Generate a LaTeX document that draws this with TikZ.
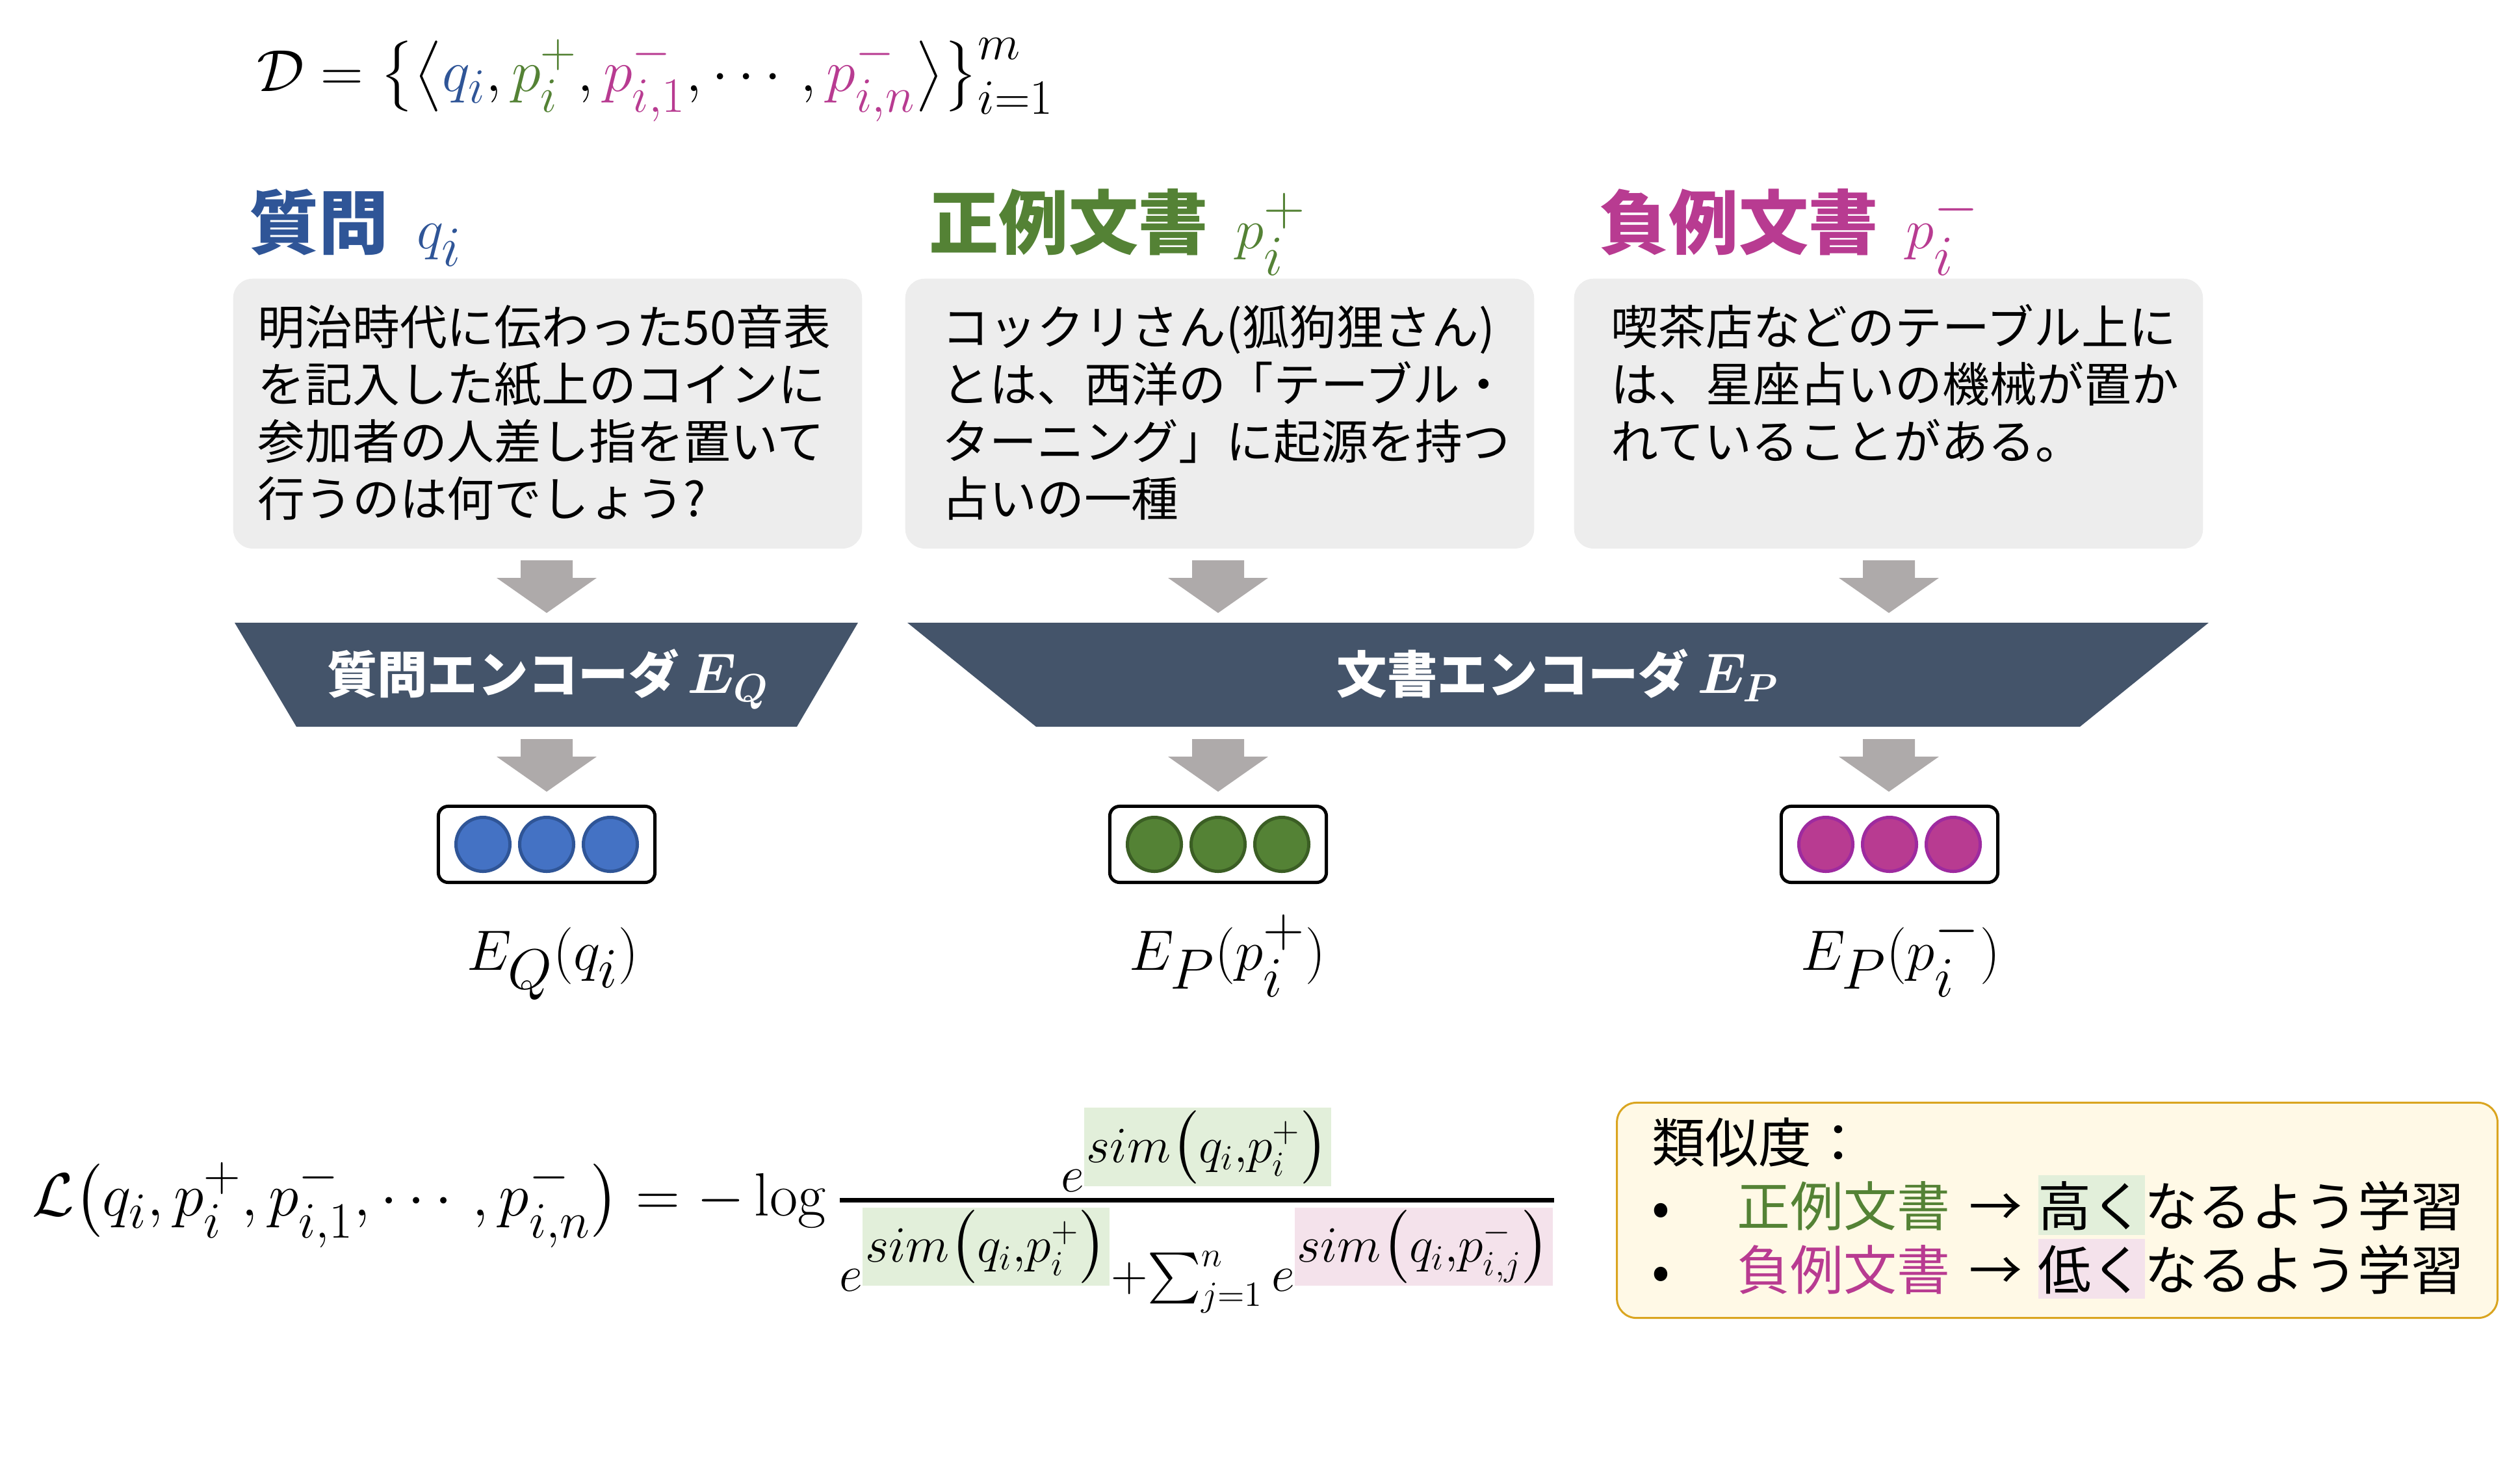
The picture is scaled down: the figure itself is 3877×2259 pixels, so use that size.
\documentclass[tikz,border=0pt]{standalone}
\usepackage[no-math]{fontspec}
\setmainfont{Noto Sans CJK JP}
\usepackage{amsmath}
\usepackage{graphicx}
\definecolor{qblue}{HTML}{2F5597}
\definecolor{pgreen}{HTML}{548235}
\definecolor{nmag}{HTML}{B83B91}
\definecolor{boxgray}{HTML}{EDEDED}
\definecolor{encfill}{HTML}{44546A}
\definecolor{arrowgray}{HTML}{AEAAAA}
\definecolor{hlg}{HTML}{E2EFDA}
\definecolor{hlp}{HTML}{F4E2EB}
\definecolor{simfill}{HTML}{FFF9E6}
\definecolor{simdraw}{HTML}{DAA520}
\definecolor{cblue}{HTML}{4472C4}
\definecolor{cbluedk}{HTML}{2F5597}
\definecolor{cgreen}{HTML}{548235}
\definecolor{cgreendk}{HTML}{3B5E24}
\definecolor{cmag}{HTML}{B83B91}
\definecolor{cmagdk}{HTML}{9E2A9F}
\newcommand{\hlG}[1]{{\setlength{\fboxsep}{1pt}\colorbox{hlg}{$\scriptstyle #1$}}}
\newcommand{\hlP}[1]{{\setlength{\fboxsep}{1pt}\colorbox{hlp}{$\scriptstyle #1$}}}
\newcommand{\hlT}[2]{{\setlength{\fboxsep}{0pt}\colorbox{#1}{\rule[-0.16em]{0pt}{1.12em}#2}}}
\begin{document}
\begin{tikzpicture}[x=0.01cm,y=-0.01cm,
  textbox/.style={fill=boxgray, rounded corners=0.3cm, minimum width=9.67cm, minimum height=4.15cm, anchor=north west, inner sep=0},
  bodytext/.style={anchor=north west, inner sep=0, text width=9.4cm, align=left, font=\fontsize{20.7}{25}\selectfont},
  header/.style={anchor=base west, inner sep=0, font=\fontsize{30.5}{36}\selectfont\bfseries},
  enclabel/.style={anchor=base, inner sep=0, text=white, font=\fontsize{22}{26}\selectfont\bfseries},
  vecbox/.style={draw=black, line width=0.05cm, rounded corners=0.15cm, minimum width=3.33cm, minimum height=1.17cm, fill=white, inner sep=0},
  dot/.style={circle, minimum size=0.83cm, inner sep=0, line width=0.05cm},
  veclabel/.style={anchor=base, inner sep=0, font=\fontsize{38}{42}\selectfont},
  blkarrow/.pic={\fill[arrowgray] (-40,0) -- (40,0) -- (40,27) -- (77,27) -- (0,81) -- (-77,27) -- (-40,27) -- cycle;}
]
\useasboundingbox (0,0) rectangle (3877,2259);

% dataset formula
\node[anchor=base west, inner sep=0] (dset) at (395,140) {\resizebox{12.25cm}{!}{\fontsize{30}{34}\selectfont $\mathcal{D}=\bigl\{\bigl\langle {\color{qblue}q_i},{\color{pgreen}p_i^+},{\color{nmag}p_{i,1}^-},\cdots,{\color{nmag}p_{i,n}^-}\bigr\rangle\bigr\}_{i=1}^{m}$}};

% headers
\node[header, text=qblue] (hq) at (383,382) {質問\hspace{0.4em}{\fontsize{34}{36}\selectfont$q_i$}};
\node[header, text=pgreen] (hp) at (1429,382) {正例文書\hspace{0.4em}{\fontsize{34}{36}\selectfont$p_i^+$}};
\node[header, text=nmag] (hn) at (2460,382) {負例文書\hspace{0.4em}{\fontsize{34}{36}\selectfont$p_i^-$}};

% text boxes
\node[textbox] (bq) at (358,428) {};
\node[textbox] (bp) at (1392,428) {};
\node[textbox] (bn) at (2421,428) {};
\node[bodytext] (tq) at (396,457) {\rule{0pt}{1em}明治時代に伝わった50音表\\を記入した紙上のコインに\\参加者の人差し指を置いて\\行うのは何でしょう?};
\node[bodytext] (tp) at (1449,457) {\rule{0pt}{1em}コックリさん(狐狗狸さん)\\とは、西洋の「テーブル・\\ターニング」に起源を持つ\\占いの一種};
\node[bodytext] (tn) at (2478,457) {\rule{0pt}{1em}喫茶店などのテーブル上に\\は、星座占いの機械が置か\\れていることがある。};

% arrows row 1
\pic at (841,862) {blkarrow};
\pic at (1874,862) {blkarrow};
\pic at (2906,862) {blkarrow};

% encoders
\fill[encfill] (361,958) -- (1320,958) -- (1226,1118) -- (456,1118) -- cycle;
\fill[encfill] (1396,958) -- (3398,958) -- (3200,1118) -- (1594,1118) -- cycle;
\node[enclabel] (eq) at (843,1066) {質問エンコーダ\,{\fontsize{26}{28}\selectfont\boldmath$E_Q$}};
\node[enclabel] (ep) at (2397,1066) {文書エンコーダ\,{\fontsize{26}{28}\selectfont\boldmath$E_P$}};

% arrows row 2
\pic at (841,1137) {blkarrow};
\pic at (1874,1137) {blkarrow};
\pic at (2906,1137) {blkarrow};

% vectors
\node[vecbox] (vq) at (841,1299) {};
\node[vecbox] (vp) at (1874,1299) {};
\node[vecbox] (vn) at (2907,1299) {};
\foreach \dx in {-98,0,98} {
  \node[dot, fill=cblue, draw=cbluedk] at ([xshift=\dx*0.01cm]vq.center) {};
  \node[dot, fill=cgreen, draw=cgreendk] at ([xshift=\dx*0.01cm]vp.center) {};
  \node[dot, fill=cmag, draw=cmagdk] at ([xshift=\dx*0.01cm]vn.center) {};
}
\node[veclabel] (lq) at (850,1492) {$E_Q(q_i)$};
\node[veclabel] (lp) at (1888,1492) {$E_P(p_i^+)$};
\node[veclabel] (ln) at (2924,1492) {$E_P(p_i^-)$};

% loss formula
\node[anchor=west, inner sep=0] (loss) at (49,1862) {\resizebox{23.44cm}{!}{\fontsize{30}{36}\selectfont$\mathcal{L}\bigl(q_i,p_i^+,p_{i,1}^-,\cdots,p_{i,n}^-\bigr)=-\log\genfrac{}{}{2pt}{1}{e^{\hlG{sim\bigl(q_i,p_i^+\bigr)}}}{e^{\hlG{sim\bigl(q_i,p_i^+\bigr)}}+\sum_{j=1}^{n}e^{\hlP{sim\bigl(q_i,p_{i,j}^-\bigr)}}}$}};

% similarity box
\node[fill=simfill, draw=simdraw, line width=0.03cm, rounded corners=0.3cm, minimum width=13.54cm, minimum height=3.31cm, inner sep=0] (simbox) at (3165,1862) {};
\node[anchor=north west, inner sep=0, text width=13cm, align=left, font=\fontsize{23.3}{27.9}\selectfont] (simtext) at (2541,1706) {\rule{0pt}{1em}類似度：\\
\makebox[1.6em][l]{•}\textcolor{pgreen}{正例文書}\hspace{0.35em}→\hspace{0.3em}\hlT{hlg}{高く}なるよう学習\\
\makebox[1.6em][l]{•}\textcolor{nmag}{負例文書}\hspace{0.35em}→\hspace{0.3em}\hlT{hlp}{低く}なるよう学習};
\end{tikzpicture}
\end{document}
